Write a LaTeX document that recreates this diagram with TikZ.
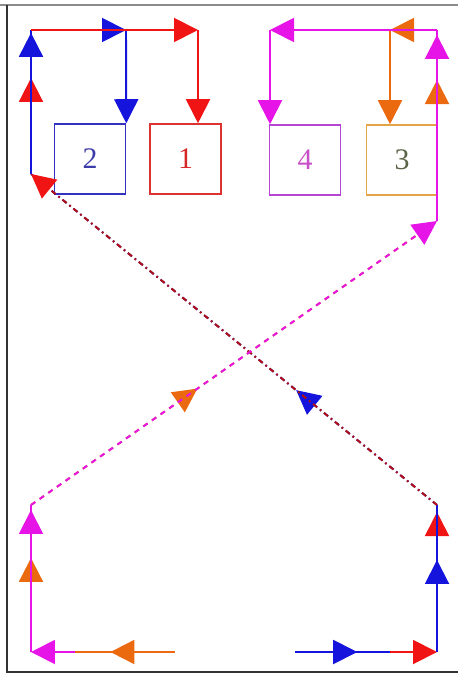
\documentclass[tikz,border=0pt]{standalone}
\usepackage{fontspec}
\setmainfont{Liberation Serif}
\usepackage{tikz}
\usetikzlibrary{arrows.meta, decorations.markings, positioning, calc}

\definecolor{cred}{RGB}{240,20,20}
\definecolor{cblue}{RGB}{20,20,220}
\definecolor{cmag}{RGB}{230,20,230}
\definecolor{corange}{RGB}{235,105,15}

\tikzset{
  route/.style={line width=1.1pt},
  arr/.style={-{Triangle[length=0.48cm,width=0.48cm,#1]}},
  arr/.default={},
  tipat/.style={postaction={decorate},
    decoration={markings, mark=at position #1 with {\arrow{Triangle[length=0.48cm,width=0.48cm]}}}},
  dashdot/.style={dash pattern=on 3pt off 2pt on 1pt off 2pt},
  box/.style={draw, line width=0.9pt, minimum width=1.42cm, minimum height=1.4cm,
    inner sep=0pt, font=\fontsize{17}{20}\selectfont}
}

\begin{document}
\begin{tikzpicture}[x=0.02cm, y=-0.02cm]
  \useasboundingbox (0,0) rectangle (458,675);
  % Frame
  \draw[line width=1.3pt, black!45] (0,5) -- (458,5);
  \draw[line width=1.1pt, black!80] (7,5) -- (7,672) -- (458,672);

  % Boxes
  \node[box, draw={rgb,255:red,50;green,50;blue,190}, text={rgb,255:red,60;green,60;blue,170}] (two) at (90,159) {2};
  \node[box, draw={rgb,255:red,220;green,50;blue,50}, text={rgb,255:red,215;green,40;blue,40}] (one) at (185.5,159) {1};
  \node[box, draw={rgb,255:red,180;green,70;blue,210}, text={rgb,255:red,200;green,80;blue,200}] (four) at (305,160) {4};
  \node[box, draw={rgb,255:red,225;green,165;blue,70}, text={rgb,255:red,90;green,100;blue,70}] (three) at (402,160) {3};

  % Corners
  \coordinate (tl) at (31,30);
  \coordinate (tr) at (437,30);
  \coordinate (lx) at (31,174);
  \coordinate (rx) at (437,221);
  \coordinate (ls) at (31,505);
  \coordinate (rs) at (437,505);
  \coordinate (bl) at (31,652);
  \coordinate (br) at (437,652);

  % Entries and turns
  \coordinate (redin) at (390,652);
  \coordinate (bluein) at (295,652);
  \coordinate (magin) at (75,652);
  \coordinate (orangein) at (175,652);
  \coordinate (redtop) at (198,30);
  \coordinate (bluetop) at (126,30);
  \coordinate (magtop) at (270,30);
  \coordinate (orangetop) at (390,30);

  % Red route
  \draw[route, cred, arr] (redin) -- (br);
  \draw[route, cred, tipat=0.952] (br) -- (rs);
  \draw[route, cred, tipat=0.667] (lx) -- (tl);

  % Blue route
  \draw[route, cblue, tipat=0.655] (bluein) -- (redin);
  \draw[route, cblue, tipat=0.626] (br) -- (rs);
  \draw[route, cblue, dashdot, tipat=0.347] (rs) -- (lx);
  \draw[route, cblue, tipat=0.98] (lx) -- (tl);
  \draw[route, cblue, arr] (tl) -- (bluetop);
  \draw[route, cblue, arr] (bluetop) -- (two.north east);

  % Red route, upper part
  \draw[route, cred!75!black, dashdot, arr={color=cred}] (rs) -- (lx);
  \draw[route, cred, arr] (tl) -- (redtop);
  \draw[route, cred, arr] (redtop) -- (redtop |- one.north);

  % Orange route
  \draw[route, corange, tipat=0.646] (orangein) -- (magin);
  \draw[route, corange, tipat=0.64] (bl) -- (ls);
  \draw[route, corange, dashed, tipat=0.41] (ls) -- (rx);
  \draw[route, corange, tipat=0.738] (rx) -- (tr);
  \draw[route, corange, arr] (tr) -- (orangetop);
  \draw[route, corange, arr] (orangetop) -- (orangetop |- three.north);

  % Magenta route
  \draw[route, cmag, arr] (magin) -- (bl);
  \draw[route, cmag, tipat=0.966] (bl) -- (ls);
  \draw[route, cmag, dashed, arr] (ls) -- (rx);
  \draw[route, cmag, tipat=0.974] (rx) -- (tr);
  \draw[route, cmag, arr] (tr) -- (magtop);
  \draw[route, cmag, arr] (magtop) -- (magtop |- four.north);
\end{tikzpicture}
\end{document}
